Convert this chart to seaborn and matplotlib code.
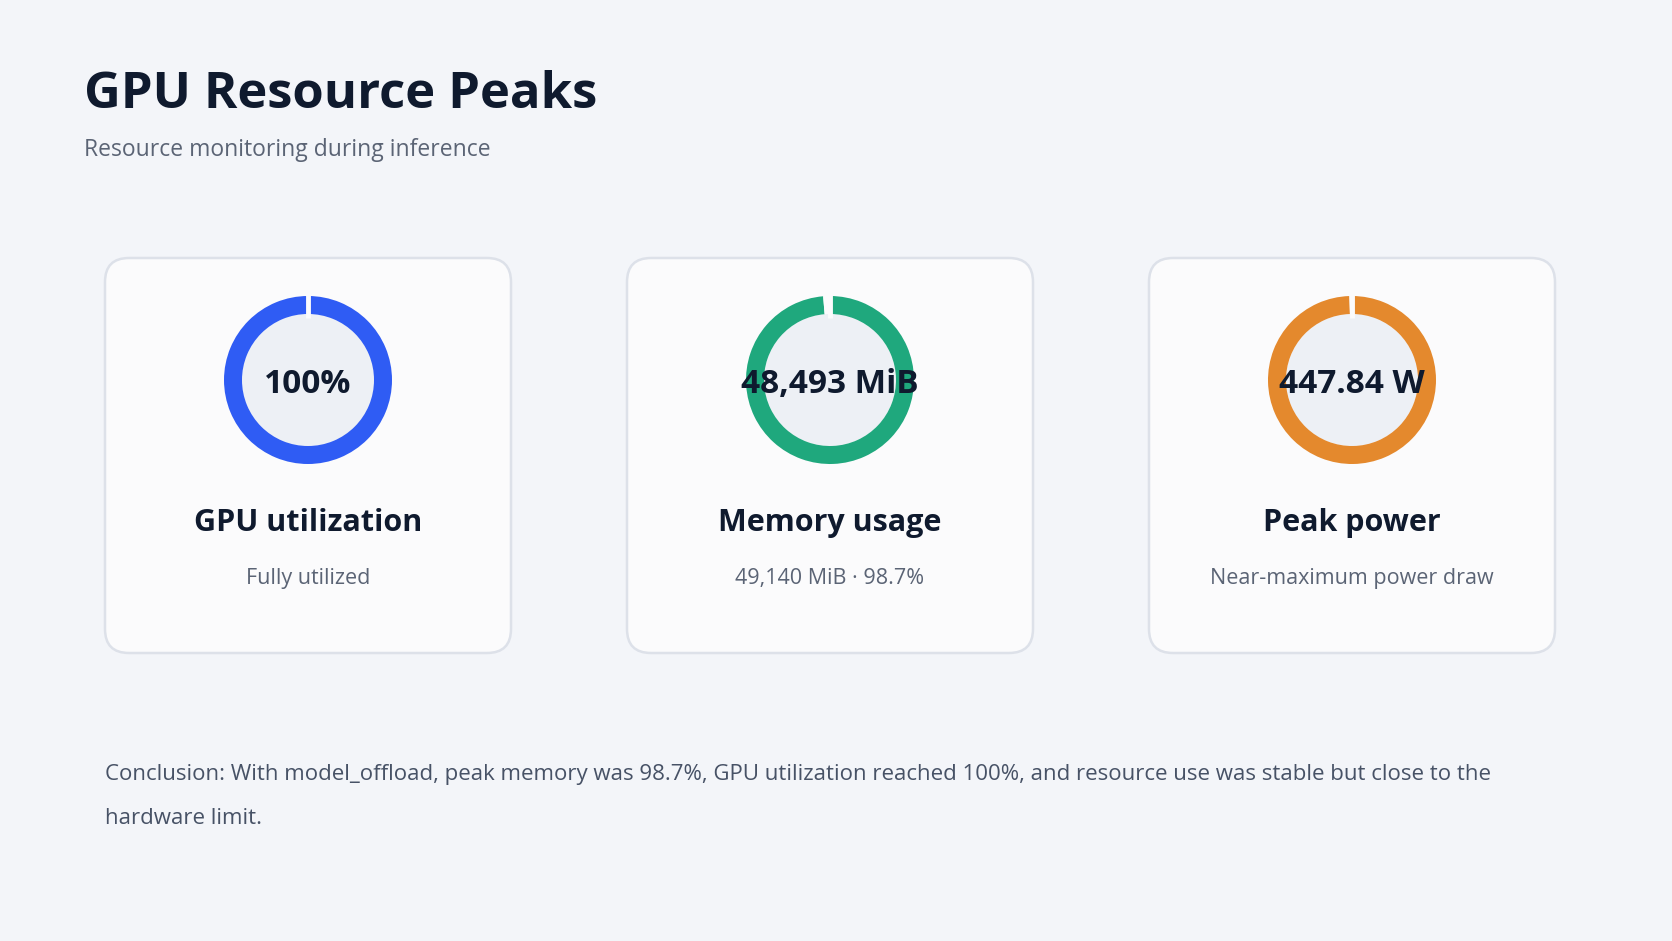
import matplotlib
matplotlib.use('Agg')
import matplotlib.pyplot as plt
from matplotlib.patches import FancyBboxPatch, Circle
import seaborn as sns

# Data
metrics = ['GPU utilization', 'Memory usage', 'Peak power']
value_labels = ['100%', '48,493 MiB', '447.84 W']
ring_pct = [100.0, 98.7, 99.5]
notes = ['Fully utilized', '49,140 MiB · 98.7%', 'Near-maximum power draw']
ring_colors = ['#2f5cf4', '#1fa87d', '#e4892d']

title = 'GPU Resource Peaks'
subtitle = 'Resource monitoring during inference'
conclusion_lines = ['Conclusion: With model_offload, peak memory was 98.7%, GPU utilization reached 100%, '
                    'and resource use was stable but close to the',
                    'hardware limit.']

sns.set_theme(style='white')
plt.rcParams['font.family'] = ['Open Sans', 'DejaVu Sans']

W, H = 1672, 941
bg = '#f3f5f9'
card_bg = '#fbfbfc'
dark = '#0f1a2e'
gray = '#5b6475'

fig = plt.figure(figsize=(W / 100, H / 100), dpi=100, facecolor=bg)
ax = fig.add_axes([0, 0, 1, 1])
ax.set_xlim(0, W)
ax.set_ylim(H, 0)
ax.axis('off')
ax.set_facecolor(bg)

ax.text(84, 108, title, fontsize=36.5, fontweight='bold', color=dark, va='baseline')
ax.text(84, 156, subtitle, fontsize=16.5, color=gray, va='baseline')

card_x = [105, 627, 1149]
card_w, card_top, card_h = 406, 258, 395
ring_cy = 380
r_out = 84
ring_w = 18

for i, name in enumerate(metrics):
    x0 = card_x[i]
    cx = x0 + card_w / 2
    card = FancyBboxPatch((x0, card_top), card_w, card_h,
                          boxstyle='round,pad=0,rounding_size=24',
                          facecolor=card_bg, edgecolor='#dde1e9', linewidth=1.8)
    ax.add_patch(card)

    # donut in its own axes
    dax = fig.add_axes([(cx - r_out) / W, 1 - (ring_cy + r_out) / H,
                        2 * r_out / W, 2 * r_out / H])
    dax.add_patch(Circle((0, 0), 1 - ring_w / r_out, facecolor='#edf0f5', edgecolor='none'))
    pct = ring_pct[i]
    dax.pie([pct, 100 - pct], colors=[ring_colors[i], card_bg], startangle=90,
            counterclock=False, radius=1,
            wedgeprops=dict(width=ring_w / r_out, edgecolor='none'))
    dax.plot([0, 0], [1 - ring_w / r_out - 0.05, 1.02], color=card_bg, lw=3.5,
             solid_capstyle='butt')
    dax.set_xlim(-1, 1)
    dax.set_ylim(-1, 1)
    dax.axis('off')
    dax.text(0, -0.05, value_labels[i], ha='center', va='center', fontsize=24,
             fontweight='bold', color=dark)

    ax.text(cx, 531, name, ha='center', va='baseline', fontsize=22,
            fontweight='bold', color=dark)
    ax.text(cx, 584, notes[i], ha='center', va='baseline', fontsize=15.5,
            color=gray)

ax.text(105, 780, conclusion_lines[0], fontsize=16, color='#475266', va='baseline')
ax.text(105, 824, conclusion_lines[1], fontsize=16, color='#475266', va='baseline')

fig.savefig('out.png', dpi=100, facecolor=bg)
